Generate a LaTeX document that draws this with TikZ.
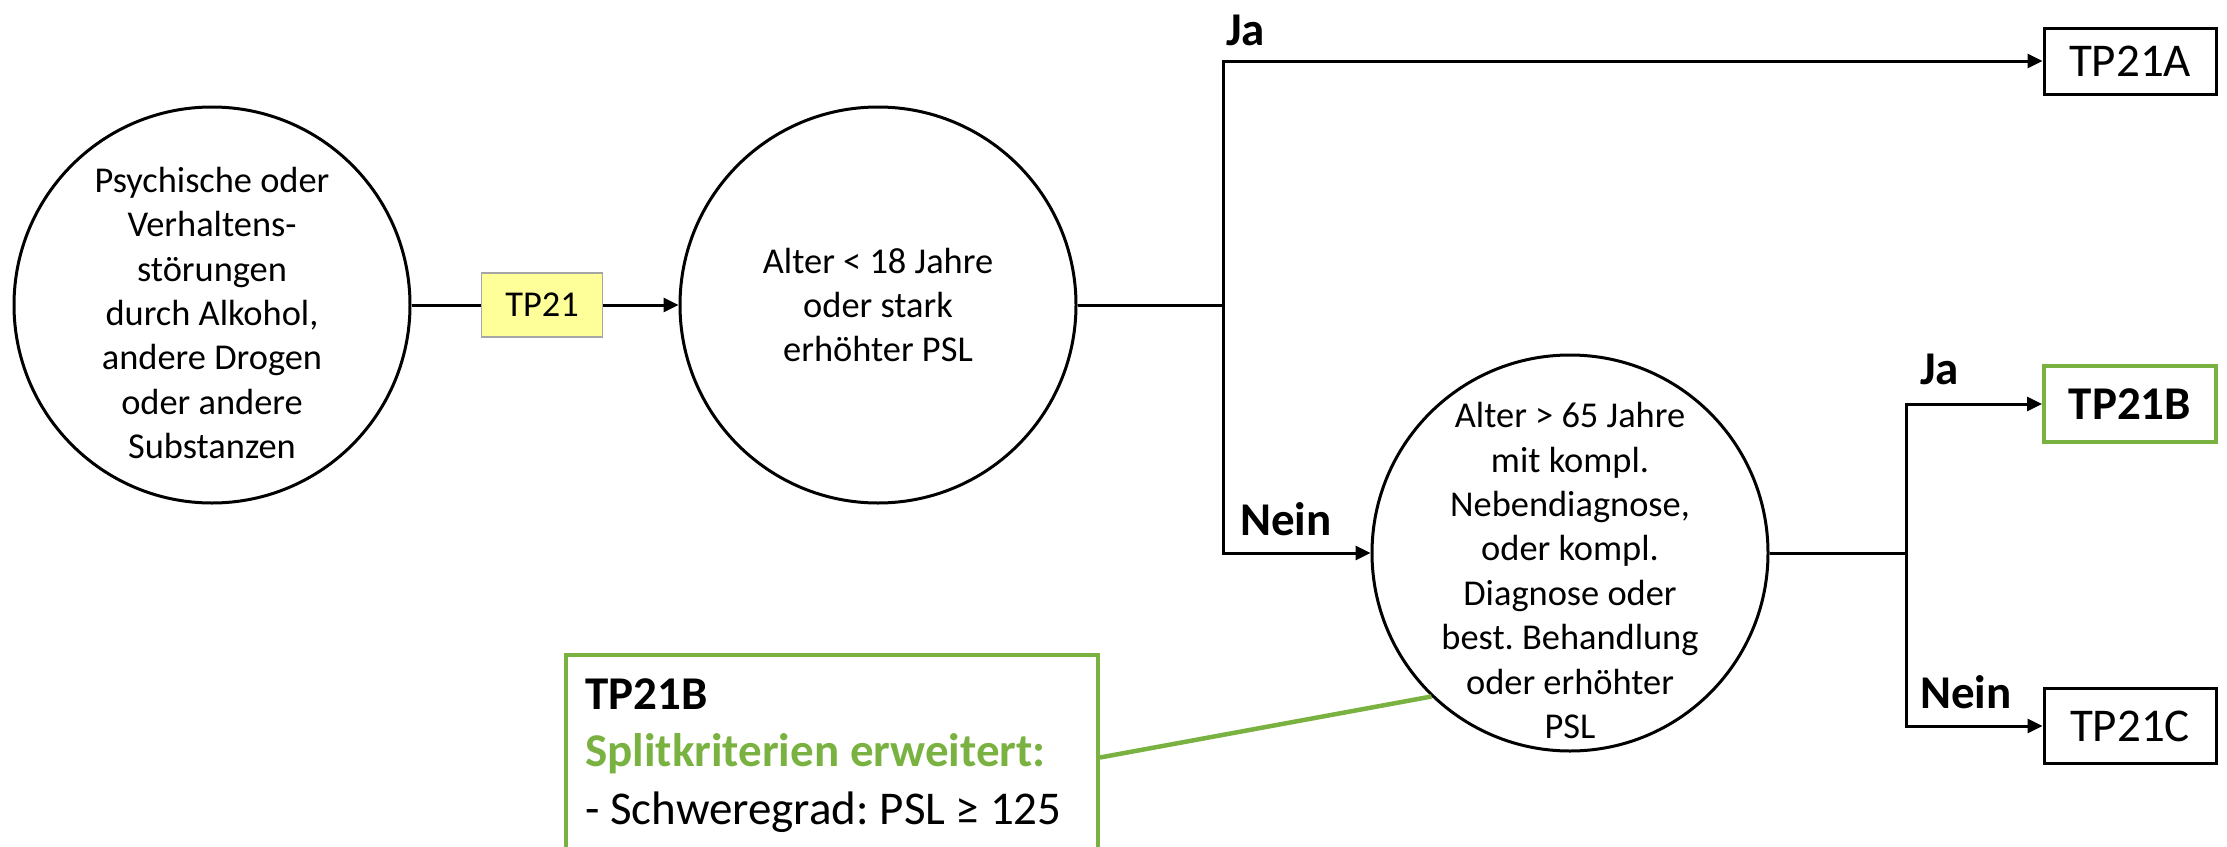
\documentclass[tikz,border=0pt]{standalone}
\usepackage{fontspec}
\setmainfont{Carlito}
\usetikzlibrary{arrows.meta}
\definecolor{nodegreen}{RGB}{122,178,66}
\definecolor{tpyellow}{RGB}{255,255,153}
\definecolor{tpgray}{RGB}{166,166,166}
\frenchspacing
\begin{document}
\begin{tikzpicture}[x=1pt,y=-1pt,
  circ/.style={circle, draw, line width=3pt, minimum size=396pt, inner sep=0pt},
  ctext/.style={align=center, font=\fontsize{36.4}{44.4}\selectfont, inner sep=0pt},
  conn/.style={line width=3pt},
  arr/.style={line width=3pt, -{Triangle[length=15pt,width=14pt]}},
  outbox/.style={draw, line width=3pt, minimum width=172pt, inner sep=0pt, font=\fontsize{47}{57.5}\selectfont},
  lbl/.style={font=\bfseries\fontsize{47}{57.5}\selectfont, inner sep=0pt, anchor=base west},
]
\useasboundingbox (0,0) rectangle (2227,846);
\clip (0,0) rectangle (2227,846);

% circles
\node[circ] (c1) at (212,305) {};
\node[ctext] (t1) at (212,313) {Psychische oder\\Verhaltens-\\störungen\\durch Alkohol,\\andere Drogen\\oder andere\\Substanzen};
\node[circ] (c2) at (878,305) {};
\node[ctext] (t2) at (878,305) {Alter < 18 Jahre\\oder stark\\erhöhter PSL};
\node[circ] (c3) at (1570,553) {};
\node[ctext] (t3) at (1570,570.5) {Alter > 65 Jahre\\mit kompl.\\Nebendiagnose,\\oder kompl.\\Diagnose oder\\best. Behandlung\\oder erhöhter\\PSL};

% TP21 box
\node[draw=tpgray, fill=tpyellow, line width=1.5pt, minimum width=121pt, minimum height=64pt, inner sep=0pt, font=\fontsize{36.4}{44.4}\selectfont] (tp) at (542,305) {TP21};

% outcome boxes
\node[outbox, minimum height=66pt] (tpa) at (2130,61) {TP21A};
\node[outbox, draw=nodegreen, line width=4pt, minimum height=76pt, font=\bfseries\fontsize{47}{57.5}\selectfont] (tpb) at (2130,404) {TP21B};
\node[outbox, minimum height=75pt] (tpc) at (2130,726) {TP21C};

% junctions
\coordinate (j1) at (1223,305);
\coordinate (j2) at (1906,553);

% connectors
\draw[conn] (c1.east) -- (tp.west);
\draw[arr] (tp.east) -- (c2.west);
\draw[conn] (c2.east) -- (j1);
\draw[arr] (j1) |- (tpa.west);
\draw[arr] (j1) |- (c3.west);
\draw[conn] (c3.east) -- (j2);
\draw[arr] (j2) |- (tpb.west);
\draw[arr] (j2) |- (tpc.west);

% labels
\node[lbl] (ja1) at (1226,45) {Ja};
\node[lbl] (nein1) at (1240,535) {Nein};
\node[lbl] (ja2) at (1920,384) {Ja};
\node[lbl] (nein2) at (1920,708) {Nein};

% note
\node[draw=nodegreen, line width=4pt, anchor=north west, minimum width=532pt, minimum height=205pt, inner sep=0pt] (note) at (564,653) {};
\node[anchor=north west, align=left, inner sep=0pt, font=\fontsize{47}{57.5}\selectfont] (notetext) at (585,678) {{\bfseries TP21B}\\{\bfseries\color{nodegreen}Splitkriterien erweitert:}\\- Schweregrad: PSL ≥ 125};
\draw[draw=nodegreen, line width=4.5pt] (note.east) -- (c3.226);
\end{tikzpicture}
\end{document}
